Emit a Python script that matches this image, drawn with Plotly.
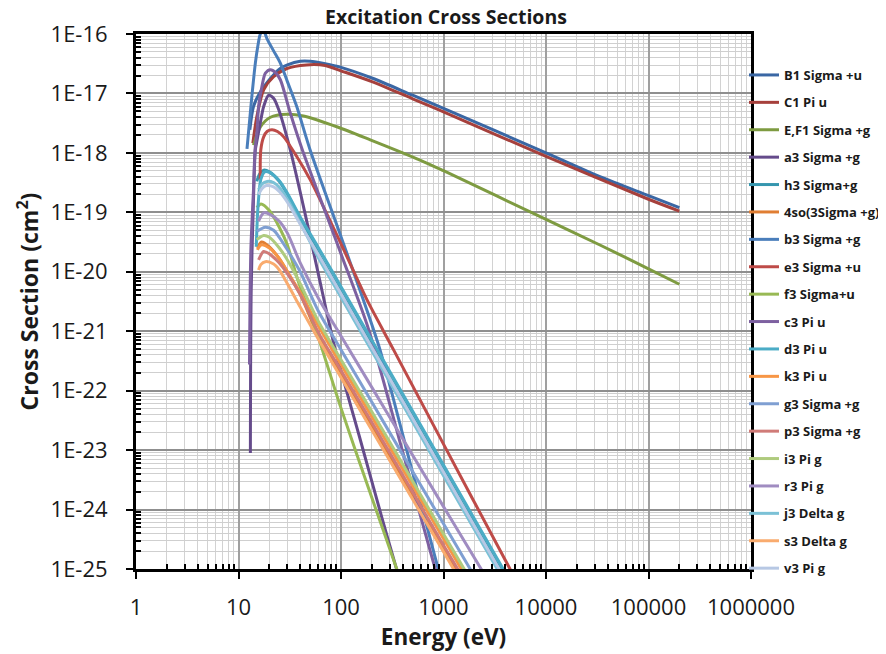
import plotly.graph_objects as go

# ---------------- data ----------------
series_names = ["B1 Sigma +u", "C1 Pi u", "E,F1 Sigma +g", "a3 Sigma +g", "h3 Sigma+g",
                "4so(3Sigma +g)", "b3 Sigma +g", "e3 Sigma +u", "f3 Sigma+u", "c3 Pi u",
                "d3 Pi u", "k3 Pi u", "g3 Sigma +g", "p3 Sigma +g", "i3 Pi g", "r3 Pi g",
                "j3 Delta g", "s3 Delta g", "v3 Pi g"]

b1_e = [12.9, 14, 16, 20, 25, 30, 40, 50, 70, 100, 200, 500, 1000, 1e4, 33600, 1e5, 2e5]
b1_s = [2.45e-18, 6.03e-18, 1.0e-17, 1.70e-17, 2.57e-17, 3.02e-17, 3.47e-17, 3.47e-17, 3.16e-17,
        2.75e-17, 1.82e-17, 9.33e-18, 5.62e-18, 1.0e-18, 3.98e-19, 1.91e-19, 1.20e-19]

c1_e = [13.8, 15.1, 17.6, 22, 29.7, 46, 70, 100, 200, 500, 1000, 1e4, 1e5, 2e5]
c1_s = [1.45e-18, 4.07e-18, 1.15e-17, 1.91e-17, 2.63e-17, 3.02e-17, 2.95e-17, 2.40e-17, 1.58e-17,
        8.13e-18, 4.90e-18, 8.71e-19, 1.66e-19, 1.05e-19]

ef1_e = [14.0, 16.4, 20.5, 29.7, 43, 91, 193, 590, 1000, 1e4, 33600, 1e5, 2e5]
ef1_s = [1.35e-18, 2.75e-18, 3.98e-18, 4.47e-18, 4.17e-18, 2.75e-18, 1.66e-18, 7.59e-19, 5.01e-19,
         7.59e-20, 2.82e-20, 1.12e-20, 6.17e-21]

a3_e = [13.06, 13.3, 14.0, 14.6, 15.2, 16.3, 17.6, 19.7, 22, 25, 32, 45, 60, 88, 150, 250, 348, 420]
a3_s = [8.91e-24, 5.01e-21, 1.62e-19, 1.12e-18, 1.66e-18, 3.16e-18, 6.03e-18, 9.33e-18, 8.32e-18,
        5.01e-18, 1.12e-18, 8.91e-20, 9.33e-21, 4.90e-22, 1.78e-23, 7.41e-25, 1.0e-25, 3.16e-26]

h3_e = [15.1, 16, 17.6, 20, 25, 30, 40, 60, 100, 300, 1000, 3570, 5000]
h3_s = [3.31e-19, 4.37e-19, 5.13e-19, 4.79e-19, 3.31e-19, 2.0e-19, 7.94e-20, 2.09e-20, 4.57e-21,
        1.70e-22, 4.57e-24, 1.0e-25, 3.63e-26]

so4_e = [15.3, 16.8, 20, 25, 30, 40, 60, 100, 300, 1000, 1310, 1600]
so4_s = [2.51e-20, 3.16e-20, 2.63e-20, 1.66e-20, 1.0e-20, 4.17e-21, 8.51e-22, 1.95e-22, 7.94e-24,
         2.24e-25, 1.0e-25, 5.62e-26]

b3_e = [12.1, 13.5, 14.6, 15.5, 16.2, 17.1, 18, 19, 22, 25.6, 30, 37, 50, 100, 165, 240, 500, 888, 1000]
b3_s = [1.17e-18, 8.91e-18, 3.24e-17, 6.5e-17, 9.6e-17, 1.15e-16, 1.05e-16, 8.3e-17, 5.2e-17,
        3.24e-17, 1.58e-17, 6.03e-18, 1.12e-18, 3.89e-20, 3.39e-21, 4.90e-22, 4.17e-24, 1.0e-25, 4.57e-26]

e3_e = [16.3, 16.5, 17.6, 19, 21.2, 24, 27.6, 37, 50, 100, 179, 325, 1000, 4300, 5000]
e3_s = [3.55e-19, 1.12e-18, 1.86e-18, 2.29e-18, 2.45e-18, 2.29e-18, 1.86e-18, 8.71e-19, 3.55e-19,
        2.95e-20, 3.39e-21, 4.90e-22, 1.26e-23, 1.12e-25, 6.92e-26]

f3_e = [15.1, 16.6, 20, 25, 30, 37.3, 60, 98.5, 200, 350, 400]
f3_s = [1.20e-19, 1.38e-19, 1.07e-19, 5.62e-20, 2.82e-20, 7.94e-21, 7.94e-22, 5.50e-23, 1.58e-24,
        1.0e-25, 5.01e-26]

c3_e = [12.8, 13.2, 14.0, 14.5, 15.2, 15.7, 16.9, 18.3, 20.5, 23, 25.6, 32, 42, 100, 186, 400, 830, 1000]
c3_s = [2.75e-22, 2.34e-20, 2.40e-19, 1.12e-18, 2.45e-18, 6.03e-18, 1.29e-17, 2.19e-17, 2.51e-17,
        2.24e-17, 1.70e-17, 4.68e-18, 1.12e-18, 2.0e-20, 1.07e-21, 9.33e-24, 1.0e-25, 3.16e-26]

d3_e = [14.9, 15.5, 16.5, 18, 20, 25, 30, 40, 60, 100, 300, 1000, 3820, 5000]
d3_s = [2.63e-20, 1.26e-19, 3.55e-19, 4.79e-19, 4.68e-19, 3.39e-19, 2.09e-19, 8.32e-20, 2.57e-20,
        5.62e-21, 2.09e-22, 5.62e-24, 1.0e-25, 4.47e-26]

k3_e = [15.3, 16.6, 20, 25, 30, 40, 60, 100, 300, 1000, 1490, 1800]
k3_s = [2.34e-20, 2.82e-20, 2.51e-20, 1.66e-20, 1.0e-20, 4.47e-21, 1.23e-21, 2.75e-22, 1.12e-23,
        3.24e-25, 1.0e-25, 5.75e-26]

g3_e = [15.1, 18.3, 22, 25, 30, 40, 60, 100, 300, 1000, 1820, 2200]
g3_s = [4.79e-20, 5.62e-20, 5.01e-20, 3.80e-20, 2.34e-20, 1.0e-20, 2.19e-21, 4.90e-22, 1.95e-23,
        5.75e-25, 1.0e-25, 5.75e-26]

p3_e = [15.7, 17.6, 20, 25, 30, 40, 60, 100, 300, 1000, 1375, 1700]
p3_s = [1.58e-20, 2.19e-20, 2.0e-20, 1.41e-20, 9.33e-21, 4.17e-21, 9.55e-22, 2.19e-22, 8.91e-24,
        2.51e-25, 1.0e-25, 5.37e-26]

i3_e = [15.1, 17.6, 20, 25, 30, 40, 60, 100, 300, 1000, 1590, 1900]
i3_s = [3.47e-20, 4.07e-20, 3.80e-20, 2.51e-20, 1.58e-20, 6.31e-21, 1.48e-21, 3.31e-22, 1.35e-23,
        3.89e-25, 1.0e-25, 5.89e-26]

r3_e = [15.7, 17.6, 20, 25, 30, 40, 60, 100, 300, 1000, 2330, 2800]
r3_s = [7.08e-20, 9.77e-20, 9.33e-20, 7.08e-20, 4.47e-20, 1.41e-20, 3.63e-21, 8.32e-22, 3.55e-23,
        1.12e-24, 1.0e-25, 5.89e-26]

j3_e = [15.7, 17, 19, 22, 25, 30, 40, 60, 100, 300, 1000, 3340, 4500]
j3_s = [2.40e-19, 3.02e-19, 3.31e-19, 3.16e-19, 2.63e-19, 1.66e-19, 6.61e-20, 1.74e-20, 3.72e-21,
        1.38e-22, 3.72e-24, 1.0e-25, 4.07e-26]

s3_e = [15.7, 16.5, 18.3, 22, 25, 30, 37.3, 60, 100, 300, 1000, 1253, 1500]
s3_s = [1.07e-20, 1.32e-20, 1.48e-20, 1.35e-20, 1.07e-20, 6.31e-21, 3.16e-21, 7.41e-22, 1.66e-22,
        6.61e-24, 1.95e-25, 1.0e-25, 5.89e-26]

v3_e = [15.7, 17, 18.7, 22, 25, 30, 40, 60, 100, 300, 1000, 3490, 4500]
v3_s = [2.0e-19, 2.51e-19, 2.82e-19, 2.69e-19, 2.24e-19, 1.48e-19, 6.31e-20, 1.95e-20, 4.27e-21,
        1.58e-22, 4.27e-24, 1.0e-25, 4.68e-26]

x_tick_vals = [1, 10, 100, 1000, 10000, 100000, 1000000]
x_tick_text = ["1", "10", "100", "1000", "10000", "100000", "1000000"]
y_tick_vals = [1e-25, 1e-24, 1e-23, 1e-22, 1e-21, 1e-20, 1e-19, 1e-18, 1e-17, 1e-16]
y_tick_text = ["1E-25", "1E-24", "1E-23", "1E-22", "1E-21", "1E-20", "1E-19", "1E-18", "1E-17", "1E-16"]

# ---------------- styling ----------------
colors = ["#3A67A4", "#A6403C", "#7E9B41", "#654B8B", "#3596AE", "#E07E33", "#4A7EBB", "#BE4B48",
          "#98B954", "#7D60A0", "#4BACC6", "#F79646", "#7F9FD2", "#D07B78", "#AFCB7E", "#A08CC1",
          "#7BC1D6", "#F9AB6E", "#B7C8E4"]

xs = [b1_e, c1_e, ef1_e, a3_e, h3_e, so4_e, b3_e, e3_e, f3_e, c3_e, d3_e, k3_e, g3_e, p3_e,
      i3_e, r3_e, j3_e, s3_e, v3_e]
ys = [b1_s, c1_s, ef1_s, a3_s, h3_s, so4_s, b3_s, e3_s, f3_s, c3_s, d3_s, k3_s, g3_s, p3_s,
      i3_s, r3_s, j3_s, s3_s, v3_s]

FONT = "Open Sans"
TXT = "#1a1a1a"
# the page body has an 8px margin, so the figure is 8px smaller than the window
W, H = 878, 646

fig = go.Figure()
for i, (name, x, y) in enumerate(zip(series_names, xs, ys)):
    fig.add_trace(go.Scatter(
        x=x, y=y, name=name, mode="lines", legendgroup=f"g{i}",
        line=dict(color=colors[i], width=3, shape="spline", smoothing=0.8),
    ))

minor_x = [m * 10 ** k for k in range(0, 6) for m in range(2, 10)]
minor_y = [m * 10.0 ** k for k in range(-25, -16) for m in range(2, 10)]

fig.update_layout(
    width=W, height=H,
    margin=dict(l=128, r=135, t=26, b=85, autoexpand=False),
    paper_bgcolor="white", plot_bgcolor="white",
    font=dict(family=FONT, color=TXT),
    title=dict(text="<b>Excitation Cross Sections</b>", x=438 / W, xanchor="center",
               y=1 - 2 / H, yanchor="top", yref="container", xref="container",
               pad=dict(t=0, b=0, l=0, r=0),
               font=dict(size=19.5, family=FONT, color=TXT)),
    showlegend=True,
    legend=dict(xref="container", yref="container", x=736 / W, xanchor="left",
                y=1 - 52 / H, yanchor="top", maxheight=600,
                font=dict(size=13, family=FONT, color=TXT, weight="bold"),
                tracegroupgap=7.5, itemwidth=30, bgcolor="rgba(0,0,0,0)",
                traceorder="grouped"),
)

fig.update_xaxes(
    type="log", range=[0, 6], automargin=False,
    tickmode="array", tickvals=x_tick_vals, ticktext=x_tick_text,
    ticks="outside", ticklen=7, tickwidth=2, tickcolor="black",
    tickfont=dict(size=22, family=FONT, color=TXT), ticklabelstandoff=10,
    showline=True, linewidth=3, linecolor="black", mirror=True,
    showgrid=True, gridcolor="#a0a0a0", gridwidth=1.5,
    minor=dict(tickmode="array", tickvals=minor_x, ticks="inside", ticklen=5,
               tickwidth=1.5, tickcolor="black", showgrid=True, gridcolor="#d2d2d2", gridwidth=1.2),
    title=dict(text="<b>Energy (eV)</b>", font=dict(size=22.5, family=FONT, color=TXT),
               standoff=0),
    zeroline=False,
)
fig.update_yaxes(
    type="log", range=[-25, -16], automargin=False,
    tickmode="array", tickvals=y_tick_vals, ticktext=y_tick_text,
    ticks="outside", ticklen=7, tickwidth=2, tickcolor="black",
    tickfont=dict(size=22, family=FONT, color=TXT), ticklabelstandoff=14,
    showline=True, linewidth=3, linecolor="black", mirror=True,
    showgrid=True, gridcolor="#8f8f8f", gridwidth=1.5,
    minor=dict(tickmode="array", tickvals=minor_y, ticks="inside", ticklen=5,
               tickwidth=1.5, tickcolor="black", showgrid=True, gridcolor="#cfcfcf", gridwidth=1.2),
    title=dict(text="<b>Cross Section (cm<sup>2</sup>)</b>",
               font=dict(size=23, family=FONT, color=TXT), standoff=6),
    zeroline=False,
)

fig.write_html("out.html")
